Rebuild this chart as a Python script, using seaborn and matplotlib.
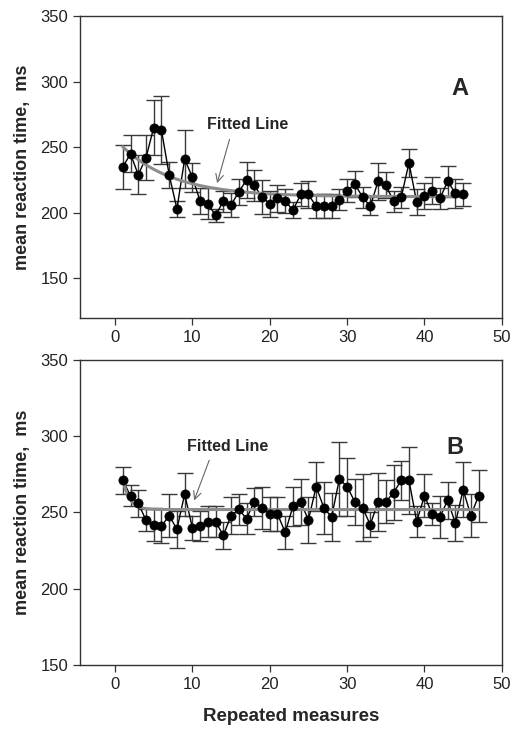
import numpy as np
import pandas as pd
import matplotlib
matplotlib.use("Agg")
import matplotlib.pyplot as plt
import seaborn as sns

# ---- data ----
measures_a = list(range(1, 46))
rt_a = [235, 245, 229, 242, 265, 263, 229, 203, 241, 227,
        209, 207, 198, 209, 206, 216, 225, 221, 212, 207,
        211, 209, 202, 214, 214, 205, 205, 205, 210, 217,
        222, 212, 205, 224, 221, 209, 212, 238, 208, 213,
        217, 211, 224, 215, 214]
err_a = [17, 14, 15, 17, 21, 26, 10, 6, 22, 11,
         10, 12, 5, 8, 9, 10, 14, 12, 13, 10,
         10, 9, 6, 9, 10, 9, 9, 9, 8, 9,
         10, 8, 7, 14, 10, 8, 8, 11, 10, 10,
         10, 8, 12, 11, 9]

measures_b = list(range(1, 48))
rt_b = [271, 261, 256, 245, 242, 241, 248, 239, 262, 240,
        241, 244, 244, 235, 248, 252, 246, 257, 253, 249,
        249, 237, 254, 257, 245, 267, 253, 247, 272, 267,
        257, 253, 242, 257, 257, 263, 271, 271, 244, 261,
        249, 247, 258, 243, 265, 248, 261]
err_b = [9, 7, 9, 7, 11, 11, 14, 12, 14, 8,
         10, 10, 10, 9, 12, 10, 10, 9, 14, 11,
         11, 11, 13, 15, 15, 16, 17, 16, 24, 19,
         15, 22, 8, 19, 14, 18, 13, 22, 10, 14,
         7, 14, 12, 12, 18, 14, 17]

panel_labels = ["A", "B"]
fit_label = "Fitted Line"
y_label = "mean reaction time,  ms"
x_label = "Repeated measures"


def exp_fit(x, y):
    """Least-squares fit of y = c + a*exp(-k x) (grid over k)."""
    x = np.asarray(x, float)
    y = np.asarray(y, float)
    best = None
    for k in np.linspace(0.01, 3.0, 600):
        M = np.column_stack([np.ones_like(x), np.exp(-k * x)])
        coef, *_ = np.linalg.lstsq(M, y, rcond=None)
        sse = np.sum((M @ coef - y) ** 2)
        if best is None or sse < best[0]:
            best = (sse, k, coef)
    _, k, (c, a) = best
    xs = np.linspace(x.min(), x.max(), 200)
    return xs, c + a * np.exp(-k * xs)


sns.set_style("ticks")
plt.rcParams["font.family"] = ["Liberation Sans", "DejaVu Sans"]

fig = plt.figure(figsize=(5.11, 7.29), dpi=100)
ax_a = fig.add_axes([0.157, 0.564, 0.825, 0.414])
ax_b = fig.add_axes([0.157, 0.088, 0.825, 0.418])

panels = [
    (ax_a, measures_a, rt_a, err_a, (120, 350), [150, 200, 250, 300, 350],
     (44.6, 295), (17.1, 267), (13.1, 220.6), (14.9, 258)),
    (ax_b, measures_b, rt_b, err_b, (150, 350), [150, 200, 250, 300, 350],
     (44.0, 292.4), (14.5, 293), (10.1, 256.2), (12.3, 286)),
]

for i, (ax, xm, ym, em, ylim, yticks, lab_xy, txt_xy, tip_xy, start_xy) in enumerate(panels):
    df = pd.DataFrame({"x": xm, "y": ym})
    ax.errorbar(xm, ym, yerr=em, fmt="none", ecolor="#3a3a3a",
                elinewidth=1.0, capsize=5.5, capthick=1.0, zorder=2)
    sns.lineplot(data=df, x="x", y="y", ax=ax, color="black", linewidth=1.0,
                 zorder=3)
    xs, ys = exp_fit(xm, ym)
    sns.lineplot(x=xs, y=ys, ax=ax, color="#8c8c8c", linewidth=2.2, zorder=4)
    sns.scatterplot(data=df, x="x", y="y", ax=ax, color="black", s=44,
                    edgecolor="black", linewidth=0.5, zorder=5)
    ax.set_xlim(-4.5, 50)
    ax.set_ylim(*ylim)
    ax.set_xticks([0, 10, 20, 30, 40, 50])
    ax.set_yticks(yticks)
    ax.tick_params(axis="both", labelsize=12, length=5, width=0.9,
                   color="#333333", labelcolor="#222222", direction="out")
    for s in ax.spines.values():
        s.set_visible(True)
        s.set_linewidth(1.0)
        s.set_color("#333333")
    ax.set_ylabel(y_label, fontsize=13, fontweight="bold", labelpad=7)
    ax.set_xlabel("")
    ax.text(lab_xy[0], lab_xy[1], panel_labels[i], fontsize=17,
            fontweight="bold", ha="center", va="center")
    ax.text(txt_xy[0], txt_xy[1], fit_label, fontsize=11.5,
            fontweight="bold", ha="center", va="center")
    ax.annotate("", xy=tip_xy, xytext=start_xy,
                arrowprops=dict(arrowstyle="->", color="#666666",
                                lw=0.8, mutation_scale=14))

ax_b.set_xlabel(x_label, fontsize=13.5, fontweight="bold", labelpad=12)

fig.savefig("out.png", dpi=100)
